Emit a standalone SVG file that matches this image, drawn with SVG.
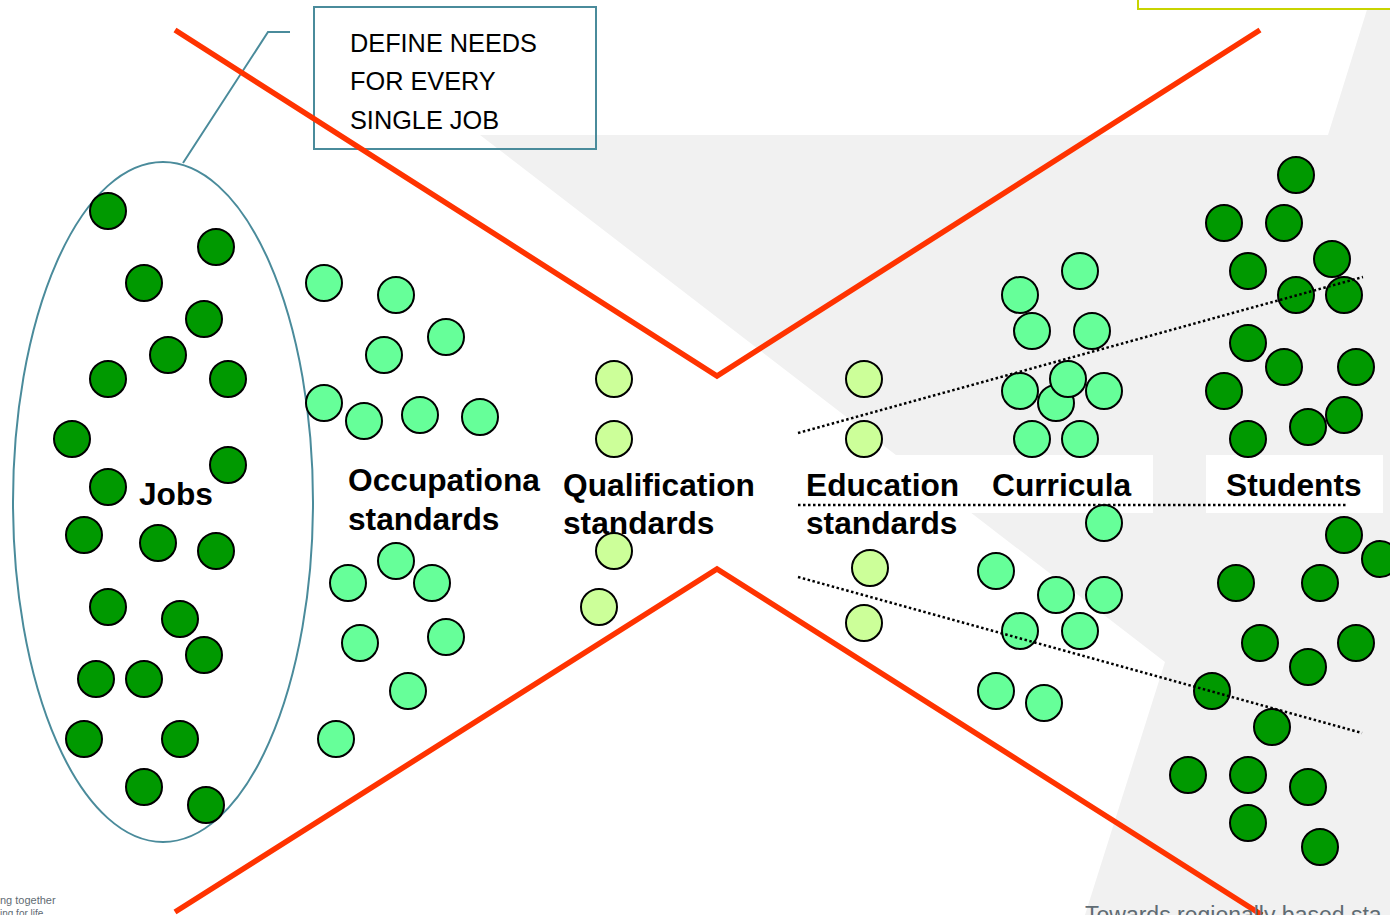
<svg xmlns="http://www.w3.org/2000/svg" width="1390" height="915" viewBox="0 0 1390 915">
<style>
.bg{fill:#f1f1f1}
.red{fill:none;stroke:#ff3300;stroke-width:5.5}
.teal{fill:none;stroke:#4a8b9b;stroke-width:2}
.dot{fill:none;stroke:#000;stroke-width:2.5;stroke-dasharray:2.5 2.5}
.dk{fill:#009900;stroke:#000;stroke-width:2}
.lg{fill:#66ff99;stroke:#000;stroke-width:2}
.pg{fill:#ccff99;stroke:#000;stroke-width:2}
.lbl{font-family:"Liberation Sans",Arial,sans-serif;font-weight:bold;font-size:31.7px;fill:#000}
.call{font-family:"Liberation Sans",Arial,sans-serif;font-size:25.3px;fill:#000}
.foot{font-family:"Liberation Sans",Arial,sans-serif;fill:#5f6b73}
</style>
<g id="background">
<rect width="1390" height="915" fill="#fff"/>
<path class="bg" d="M480,135 L1328,135 L1370,0 L1390,0 L1390,915 L1085,915 L1165,662 Z"/>
<rect x="1138" y="-5" width="260" height="14" fill="#fff" stroke="#c8d400" stroke-width="2"/>
<rect x="800" y="455" width="353" height="58" fill="#fff"/>
<rect x="1206" y="455" width="177" height="58" fill="#fff"/>
</g>
<g id="callout">
<rect class="teal" x="314" y="7" width="282" height="142"/>
<polyline class="teal" points="290,32 268,32 183,163"/>
<text class="call" x="350" y="52">DEFINE NEEDS</text>
<text class="call" x="350" y="90">FOR EVERY</text>
<text class="call" x="350" y="129">SINGLE JOB</text>
</g>
<g id="funnel">
<polyline class="red" points="175,30 717,376 1260,30"/>
<polyline class="red" points="175,912 717,569 1262,915"/>
</g>
<g id="jobs">
<ellipse class="teal" cx="163" cy="502" rx="150" ry="340"/>
<circle class="dk" cx="108" cy="211" r="18"/>
<circle class="dk" cx="216" cy="247" r="18"/>
<circle class="dk" cx="144" cy="283" r="18"/>
<circle class="dk" cx="204" cy="319" r="18"/>
<circle class="dk" cx="168" cy="355" r="18"/>
<circle class="dk" cx="108" cy="379" r="18"/>
<circle class="dk" cx="228" cy="379" r="18"/>
<circle class="dk" cx="72" cy="439" r="18"/>
<circle class="dk" cx="228" cy="465" r="18"/>
<circle class="dk" cx="108" cy="487" r="18"/>
<circle class="dk" cx="84" cy="535" r="18"/>
<circle class="dk" cx="158" cy="543" r="18"/>
<circle class="dk" cx="216" cy="551" r="18"/>
<circle class="dk" cx="108" cy="607" r="18"/>
<circle class="dk" cx="180" cy="619" r="18"/>
<circle class="dk" cx="204" cy="655" r="18"/>
<circle class="dk" cx="96" cy="679" r="18"/>
<circle class="dk" cx="144" cy="679" r="18"/>
<circle class="dk" cx="84" cy="739" r="18"/>
<circle class="dk" cx="180" cy="739" r="18"/>
<circle class="dk" cx="144" cy="787" r="18"/>
<circle class="dk" cx="206" cy="805" r="18"/>
<text class="lbl" x="139" y="505">Jobs</text>
</g>
<g id="occupational">
<circle class="lg" cx="324" cy="283" r="18"/>
<circle class="lg" cx="396" cy="295" r="18"/>
<circle class="lg" cx="446" cy="337" r="18"/>
<circle class="lg" cx="384" cy="355" r="18"/>
<circle class="lg" cx="324" cy="403" r="18"/>
<circle class="lg" cx="364" cy="421" r="18"/>
<circle class="lg" cx="420" cy="415" r="18"/>
<circle class="lg" cx="480" cy="417" r="18"/>
<circle class="lg" cx="396" cy="561" r="18"/>
<circle class="lg" cx="348" cy="583" r="18"/>
<circle class="lg" cx="432" cy="583" r="18"/>
<circle class="lg" cx="360" cy="643" r="18"/>
<circle class="lg" cx="446" cy="637" r="18"/>
<circle class="lg" cx="408" cy="691" r="18"/>
<circle class="lg" cx="336" cy="739" r="18"/>
<text class="lbl" x="348" y="491">Occupationa</text>
<text class="lbl" x="348" y="530">standards</text>
</g>
<g id="qualification">
<circle class="pg" cx="614" cy="379" r="18"/>
<circle class="pg" cx="614" cy="439" r="18"/>
<text class="lbl" x="563" y="496">Qualification</text>
<text class="lbl" x="563" y="534">standards</text>
<circle class="pg" cx="614" cy="551" r="18"/>
<circle class="pg" cx="599" cy="607" r="18"/>
</g>
<g id="education">
<circle class="pg" cx="864" cy="379" r="18"/>
<circle class="pg" cx="864" cy="439" r="18"/>
<circle class="pg" cx="870" cy="568" r="18"/>
<circle class="pg" cx="864" cy="623" r="18"/>
<text class="lbl" x="806" y="496">Education</text>
<text class="lbl" x="806" y="534">standards</text>
</g>
<g id="curricula">
<circle class="lg" cx="1080" cy="271" r="18"/>
<circle class="lg" cx="1020" cy="295" r="18"/>
<circle class="lg" cx="1032" cy="331" r="18"/>
<circle class="lg" cx="1092" cy="331" r="18"/>
<circle class="lg" cx="1020" cy="391" r="18"/>
<circle class="lg" cx="1056" cy="403" r="18"/>
<circle class="lg" cx="1068" cy="379" r="18"/>
<circle class="lg" cx="1104" cy="391" r="18"/>
<circle class="lg" cx="1032" cy="439" r="18"/>
<circle class="lg" cx="1080" cy="439" r="18"/>
<circle class="lg" cx="1104" cy="523" r="18"/>
<circle class="lg" cx="996" cy="571" r="18"/>
<circle class="lg" cx="1056" cy="595" r="18"/>
<circle class="lg" cx="1104" cy="595" r="18"/>
<circle class="lg" cx="1020" cy="631" r="18"/>
<circle class="lg" cx="1080" cy="631" r="18"/>
<circle class="lg" cx="996" cy="691" r="18"/>
<circle class="lg" cx="1044" cy="703" r="18"/>
<text class="lbl" x="992" y="496">Curricula</text>
</g>
<g id="students">
<circle class="dk" cx="1296" cy="175" r="18"/>
<circle class="dk" cx="1224" cy="223" r="18"/>
<circle class="dk" cx="1284" cy="223" r="18"/>
<circle class="dk" cx="1248" cy="271" r="18"/>
<circle class="dk" cx="1332" cy="259" r="18"/>
<circle class="dk" cx="1296" cy="295" r="18"/>
<circle class="dk" cx="1344" cy="295" r="18"/>
<circle class="dk" cx="1248" cy="343" r="18"/>
<circle class="dk" cx="1284" cy="367" r="18"/>
<circle class="dk" cx="1356" cy="367" r="18"/>
<circle class="dk" cx="1224" cy="391" r="18"/>
<circle class="dk" cx="1344" cy="415" r="18"/>
<circle class="dk" cx="1308" cy="427" r="18"/>
<circle class="dk" cx="1248" cy="439" r="18"/>
<circle class="dk" cx="1344" cy="535" r="18"/>
<circle class="dk" cx="1380" cy="559" r="18"/>
<circle class="dk" cx="1236" cy="583" r="18"/>
<circle class="dk" cx="1320" cy="583" r="18"/>
<circle class="dk" cx="1260" cy="643" r="18"/>
<circle class="dk" cx="1356" cy="643" r="18"/>
<circle class="dk" cx="1308" cy="667" r="18"/>
<circle class="dk" cx="1212" cy="691" r="18"/>
<circle class="dk" cx="1272" cy="727" r="18"/>
<circle class="dk" cx="1188" cy="775" r="18"/>
<circle class="dk" cx="1248" cy="775" r="18"/>
<circle class="dk" cx="1308" cy="787" r="18"/>
<circle class="dk" cx="1248" cy="823" r="18"/>
<circle class="dk" cx="1320" cy="847" r="18"/>
<text class="lbl" x="1226" y="496">Students</text>
</g>
<g id="connectors">
<line class="dot" x1="798" y1="433" x2="1363" y2="277"/>
<line class="dot" x1="798" y1="505" x2="1348" y2="505"/>
<line class="dot" x1="798" y1="577" x2="1362" y2="733"/>
</g>
<g id="footer">
<text class="foot" x="0" y="904" font-size="11">ng together</text>
<text class="foot" x="0" y="917" font-size="10">ing for life</text>
<text class="foot" x="1085" y="923" font-size="23">Towards regionally based sta</text>
</g>
</svg>
